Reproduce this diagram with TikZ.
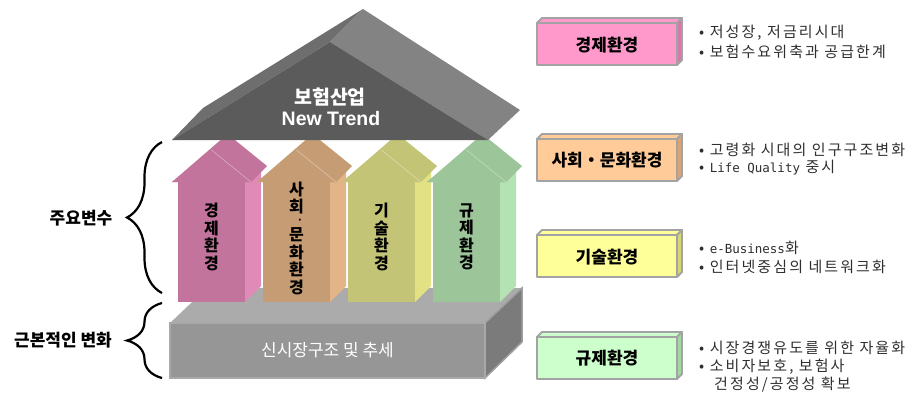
\documentclass[tikz,border=0pt]{standalone}
\usepackage{fontspec}
\setmainfont{Noto Sans CJK KR}
\newfontfamily\latinb{Liberation Sans}
\newfontfamily\monof{DejaVu Sans Mono}
\newfontfamily\bulfont[LetterSpace=14]{Noto Sans CJK KR}
\usetikzlibrary{decorations.pathreplacing}
\definecolor{pkF}{HTML}{C2749D}\definecolor{pkS}{HTML}{E08AB8}
\definecolor{tnF}{HTML}{C69C74}\definecolor{tnS}{HTML}{E2B488}
\definecolor{olF}{HTML}{C4C477}\definecolor{olS}{HTML}{E2E285}
\definecolor{grF}{HTML}{9CC59A}\definecolor{grS}{HTML}{B5E2B2}
\definecolor{roofF}{HTML}{5B5B5B}\definecolor{roofL}{HTML}{6E6E6E}\definecolor{roofR}{HTML}{838383}
\definecolor{baseT}{HTML}{ABABAB}\definecolor{baseF}{HTML}{969696}\definecolor{baseFb}{HTML}{A9A9A9}
\definecolor{baseS}{HTML}{7B7B7B}\definecolor{baseSb}{HTML}{A0A0A0}
\definecolor{boxB}{HTML}{A3A3A3}
\definecolor{bxpk}{HTML}{FF99CC}\definecolor{bxpkS}{HTML}{D47AA8}
\definecolor{bxpe}{HTML}{FFCC99}\definecolor{bxpeS}{HTML}{D9A577}
\definecolor{bxye}{HTML}{FFFF99}\definecolor{bxyeS}{HTML}{D6D672}
\definecolor{bxgr}{HTML}{CCFFCC}\definecolor{bxgrS}{HTML}{A3D6A3}
\definecolor{txtg}{HTML}{2E2E2E}
\tikzset{
  vtext/.style={font=\fontsize{16}{17.5}\selectfont\bfseries, align=center, text=black, inner sep=0pt},
  bigl/.style={font=\fontsize{17}{20}\selectfont\bfseries, text=black, inner sep=0pt},
  boxtitle/.style={font=\fontsize{17}{20}\selectfont\bfseries, text=black, inner sep=0pt},
  bullet/.style={font=\bulfont\fontsize{15}{17}\selectfont, text=txtg, anchor=west, inner sep=0pt},
  bracestyle/.style={line width=2.2pt, decorate, decoration={brace, amplitude=35pt}},
  boxedge/.style={draw=boxB, line width=1.8pt, line join=round}
}
\begin{document}
\begin{tikzpicture}[x=1pt,y=-1pt]
\useasboundingbox (0,0) rectangle (915,392);

% ---------- base block ----------
\fill[baseT] (170,323) -- (207,288) -- (522,288) -- (485,323) -- cycle;
\filldraw[fill=baseS, draw=baseSb, line width=1.5pt] (485,323) -- (522,288) -- (522,342) -- (485,378) -- cycle;
\filldraw[fill=baseF, draw=baseFb, line width=2pt] (170,323) rectangle (485,378);
\node[font=\fontsize{17}{20}\selectfont, text=white, inner sep=0pt] (base) at (327.5,350) {신시장구조 및 추세};

% ---------- arrows ----------
\foreach \L/\fc/\sc in {178/pkF/pkS, 263/tnF/tnS, 348/olF/olS, 433/grF/grS}{
  \pgfmathsetmacro\R{\L+67}
  \pgfmathsetmacro\A{\L+33.5}
  \fill[\sc] (\R,302) -- (\R,182) -- (\R+16,166) -- (\R+16,286) -- cycle;
  \fill[\fc] (\L,302) rectangle (\R,182);
  \fill[\fc] (\L-6,182) -- (\A+16,134) -- (\R+22,166) -- (\R+6,182) -- cycle;
  \fill[\fc] (\L-6,182) -- (\A,150) -- (\R+6,182) -- cycle;
  \draw[white, opacity=0.45, line width=0.5pt] (\A,150) -- (\R+6,182);
}
\node[vtext] (a1) at (211.5,237) {경\\제\\환\\경};
\node[vtext] (a2a) at (296.5,198.25) {사\\회};
\node[font=\fontsize{8}{8}\selectfont, inner sep=0pt] (a2dot) at (300,221) {•};
\node[vtext] (a2b) at (296.5,261.25) {문\\화\\환\\경};
\node[vtext] (a3) at (381.5,237) {기\\술\\환\\경};
\node[vtext] (a4) at (466.5,237) {규\\제\\환\\경};

% ---------- roof ----------
\fill[roofL] (172,140) -- (330,42) -- (363,9) -- (203,108) -- cycle;
\fill[roofR] (330,42) -- (363,9) -- (520,110) -- (488,140) -- cycle;
\fill[roofF] (172,140) -- (330,42) -- (488,140) -- cycle;
\node[font=\fontsize{19.5}{22}\selectfont\bfseries, text=white, inner sep=0pt] (roof1) at (330,97) {보험산업};
\node[font=\fontsize{19.5}{22}\selectfont\latinb\bfseries, text=white, inner sep=0pt] (roof2) at (331,119) {New Trend};

% ---------- braces ----------
\coordinate (b1s) at (162,293); \coordinate (b1e) at (162,142);
\coordinate (b2s) at (162,378); \coordinate (b2e) at (162,303);
\draw[bracestyle] (b1s) -- (b1e);
\draw[bracestyle] (b2s) -- (b2e);
\node[bigl] (lab1) at (81,218) {주요변수};
\node[bigl] (lab2) at (63,340) {근본적인 변화};

% ---------- right boxes ----------
\foreach \yc/\fc/\sc in {44/bxpk/bxpkS, 160/bxpe/bxpeS, 256/bxye/bxyeS, 358/bxgr/bxgrS}{
  \filldraw[boxedge, fill=\fc] (537,\yc-21) -- (542,\yc-26) -- (682,\yc-26) -- (677,\yc-21) -- cycle;
  \filldraw[boxedge, fill=\sc] (677,\yc-21) -- (682,\yc-26) -- (682,\yc+16) -- (677,\yc+21) -- cycle;
  \filldraw[boxedge, fill=\fc] (537,\yc-21) rectangle (677,\yc+21);
}
\node[boxtitle] (t1) at (607,45) {경제환경};
\node[boxtitle] (t2) at (607,160) {사회・문화환경};
\node[boxtitle] (t3) at (607,257) {기술환경};
\node[boxtitle] (t4) at (607,358) {규제환경};

% ---------- bullets ----------
\node[bullet] (l11) at (699,33) {• 저성장, 저금리시대};
\node[bullet] (l12) at (699,52) {• 보험수요위축과 공급한계};
\node[bullet] (l21) at (699,150) {• 고령화 시대의 인구구조변화};
\node[bullet] (l22) at (699,168) {• {\monof\fontsize{12.5}{15}\selectfont Life Quality} 중시};
\node[bullet] (l31) at (699,248) {• {\monof\fontsize{12.5}{15}\selectfont e-Business}화};
\node[bullet] (l32) at (699,267) {• 인터넷중심의 네트워크화};
\node[bullet] (l41) at (699,348) {• 시장경쟁유도를 위한 자율화};
\node[bullet] (l42) at (699,367) {• 소비자보호, 보험사};
\node[bullet] (l43) at (714,385) {건정성/공정성 확보};
\end{tikzpicture}
\end{document}
